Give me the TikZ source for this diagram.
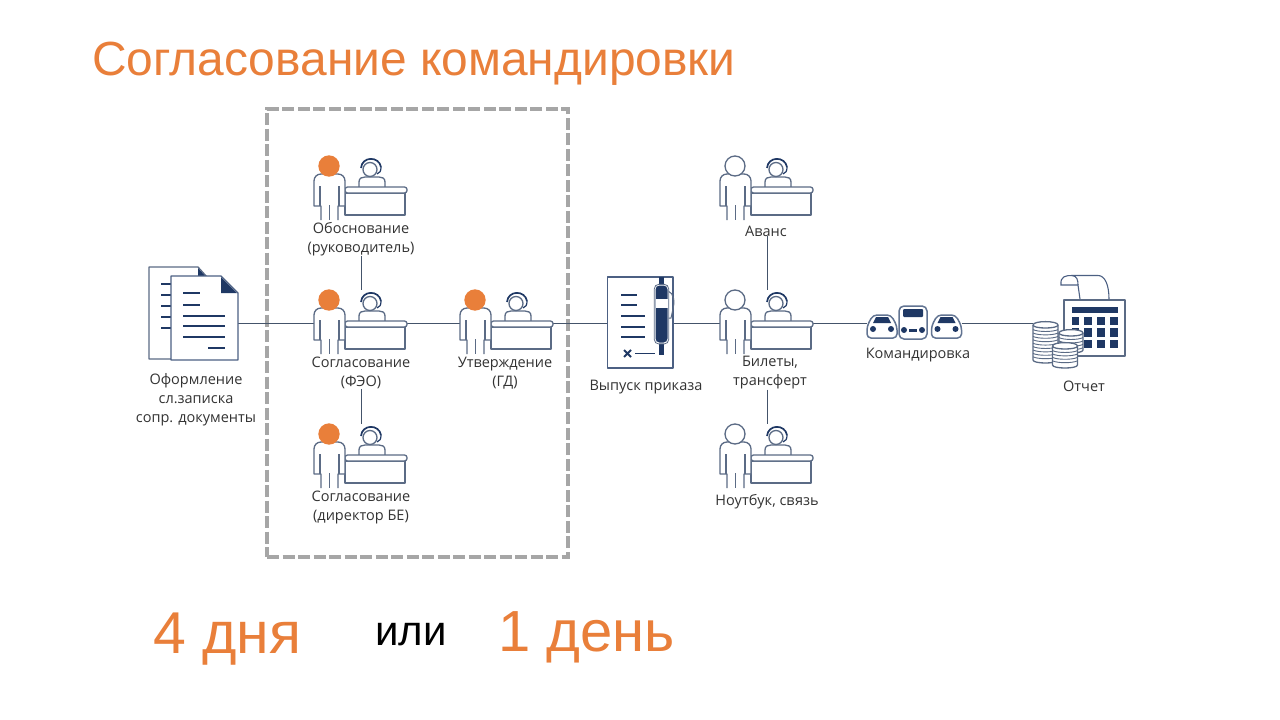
\documentclass[tikz,border=0pt]{standalone}
\usepackage{fontspec}
\setmainfont{Open Sans}
\newfontfamily\headfont{Liberation Sans}
\definecolor{navy}{HTML}{1F3864}
\definecolor{linegray}{HTML}{44546A}
\definecolor{outl}{HTML}{5B6B85}
\definecolor{orng}{HTML}{E97F3A}
\definecolor{dashgray}{HTML}{A6A6A6}
\tikzset{
  x=1pt,y=-1pt,
  conn/.style={draw=linegray,line width=1pt},
  ol/.style={draw=outl,line width=1.3pt,fill=white,line join=round},
  ink/.style={draw=navy,line width=1.6pt},
  lab/.style={align=center,inner sep=0pt,font=\fontsize{14.5}{19}\selectfont,text=black!80},
  anchorbox/.style={inner sep=0pt,minimum width=92pt,minimum height=66pt},
  desk/.pic={
    % agent
    \draw[ol] (-2,-2) -- (-2,-7) .. controls (-2,-11) and (1,-12) .. (4,-12) -- (18,-12) .. controls (21,-12) and (24,-11) .. (24,-7) -- (24,-2);
    \draw[ol] (9,-19.5) circle[radius=7pt];
    \draw[navy,line width=1.7pt] (0,-21) .. controls (1,-33) and (18,-33) .. (20,-22);
    \draw[navy,line width=1.2pt] (20,-22) .. controls (20,-18) and (19,-16) .. (16,-15);
    % desk
    \draw[ol] (-16,4) rectangle (44,26);
    \draw[ol,rounded corners=2.5pt] (-16,-2) rectangle (46,4);
    % person
    \draw[ol] (-40,31) -- (-40,17) -- (-47,17) -- (-47,-8) .. controls (-47,-12) and (-44,-15) .. (-40,-15) -- (-23,-15) .. controls (-19,-15) and (-16,-12) .. (-16,-8) -- (-16,17) -- (-23,17) -- (-23,31);
    \draw[ol,fill=none] (-41,-3) -- (-41,17) (-22,-3) -- (-22,17) (-31.5,16) -- (-31.5,31);
    \draw[ol,draw=\personedge,fill=\personfill] (-32,-23) circle[radius=10pt];
  },
  car/.pic={
    \draw[ol,draw=navy!70!white,line width=1.5pt,rounded corners=4pt] (-15,11) -- (-15,-1) -- (-9,-12) -- (9,-12) -- (15,-1) -- (15,11) -- cycle;
    \fill[navy] (-9,-4) -- (-6,-10) -- (6,-10) -- (9,-4) -- cycle;
    \fill[navy] (-9,2) circle[radius=3pt] (9,2) circle[radius=3pt];
  },
  bus/.pic={
    \draw[ol,draw=navy!70!white,line width=1.5pt,rounded corners=5pt] (-14,16.5) -- (-14,-16.5) -- (14,-16.5) -- (14,16.5) -- cycle;
    \fill[navy,rounded corners=1pt] (-10,-13.5) rectangle (10,-5.5);
    \fill[navy] (-9,7.5) circle[radius=3pt] (9,7.5) circle[radius=3pt];
    \fill[navy] (-4,6) rectangle (4,9);
  }
}
\newcommand{\personfill}{white}
\newcommand{\personedge}{outl}
\newcommand{\coinstack}[4]{% left, right, top, bottom
  \draw[ol] (#1,#3+3) -- (#1,#4-3) .. controls (#1,#4+1) and (#2,#4+1) .. (#2,#4-3) -- (#2,#3+3);
  \draw[ol] (#1,#3+3) .. controls (#1,#3-1.5) and (#2,#3-1.5) .. (#2,#3+3) .. controls (#2,#3+7) and (#1,#3+7) .. (#1,#3+3);
  \pgfmathsetmacro{\ystart}{#3+8.6}
  \pgfmathsetmacro{\ynext}{#3+12}
  \pgfmathsetmacro{\yend}{#4-3}
  \foreach \yy in {\ystart,\ynext,...,\yend}{
    \draw[outl,line width=.9pt] (#1,\yy-1) .. controls (#1+5,\yy+1.5) and (#2-5,\yy+1.5) .. (#2,\yy-1);
  }
}
\begin{document}
\begin{tikzpicture}
\useasboundingbox (0,0) rectangle (1280,720);
\fill[white] (0,0) rectangle (1280,720);

% texts
\node[anchor=west,inner sep=0pt,text=orng,font=\headfont\fontsize{47.9}{50}\selectfont] (title) at (92,64) {Согласование командировки};
\node[anchor=west,inner sep=0pt,text=orng,font=\headfont\fontsize{59}{64}\selectfont] (t4) at (153,639) {4 дня};
\node[anchor=west,inner sep=0pt,text=black,font=\headfont\fontsize{42}{48}\selectfont] (tor) at (375,635) {или};
\node[anchor=west,inner sep=0pt,text=orng,font=\headfont\fontsize{58}{64}\selectfont] (t1) at (498,637) {1 день};

% icon anchor boxes
\node[anchorbox] (ob) at (361,189) {};
\node[anchorbox] (feo) at (361,323) {};
\node[anchorbox] (dir) at (361,457) {};
\node[anchorbox] (gd) at (507,323) {};
\node[anchorbox] (av) at (767,189) {};
\node[anchorbox] (bi) at (767,323) {};
\node[anchorbox] (no) at (767,457) {};
\node[inner sep=0pt,minimum width=67pt,minimum height=84pt] (doc) at (204.5,323) {};
\node[inner sep=0pt,minimum width=66pt,minimum height=91pt] (ord) at (640.5,323) {};
\node[inner sep=0pt,minimum width=94pt,minimum height=34pt] (cars) at (914.5,323) {};
\node[inner sep=0pt,minimum width=92pt,minimum height=96pt] (calc) at (1079,323) {};

% labels
\node[lab] (lob) at (361,239) {Обоснование\\(руководитель)};
\node[lab] (lfeo) at (361,373) {Согласование\\(ФЭО)};
\node[lab] (ldir) at (361,507.5) {Согласование\\(директор БЕ)};
\node[lab] (lgd) at (505,373) {Утверждение\\(ГД)};
\node[lab] (ldoc) at (196,400) {Оформление\\сл.записка\\сопр. документы};
\node[lab] (lord) at (646,387) {Выпуск приказа};
\node[lab] (lav) at (766,231) {Аванс};
\node[lab] (lbi) at (770,373) {Билеты,\\трансферт};
\node[lab] (lno) at (767,502) {Ноутбук, связь};
\node[lab] (lcars) at (918,355) {Командировка};
\node[lab] (lcalc) at (1084,386) {Отчет};

% dashed frame
\node[draw=dashgray,line width=3.4pt,dash pattern=on 12pt off 3.5pt,inner sep=0pt,minimum width=301pt,minimum height=448pt] (frame) at (417.5,333) {};

% connectors
\draw[conn] (doc.east) -- (feo.west);
\draw[conn] (feo.east) -- (gd.west);
\draw[conn] (gd.east) -- (ord.west);
\draw[conn] (ord.east) -- (bi.west);
\draw[conn] (bi.east) -- (cars.west);
\draw[conn] (cars.east) -- (calc.west);
\draw[conn] (lob.south) -- (feo.north);
\draw[conn] (lfeo.south) -- (dir.north);
\draw[conn] (lav.south -| bi.center) -- (bi.north);
\draw[conn] (lbi.south -| bi.center) -- (no.north);

% people desks
\begin{scope}
\renewcommand{\personfill}{orng}\renewcommand{\personedge}{orng}
\pic at (ob.center) {desk};
\pic at (feo.center) {desk};
\pic at (dir.center) {desk};
\pic at (gd.center) {desk};
\end{scope}
\pic at (av.center) {desk};
\pic at (bi.center) {desk};
\pic at (no.center) {desk};

% documents
\draw[ol] (149,267) -- (198,267) -- (207,277) -- (207,359) -- (149,359) -- cycle;
\fill[navy] (198,268) -- (198,277) -- (206,277) -- cycle;
\foreach \yy in {284,295,306,317,328} \draw[ink] (161,\yy) -- (172,\yy);
\draw[ol,draw=navy!80!white] (171,276) -- (221,276) -- (238,293) -- (238,360) -- (171,360) -- cycle;
\fill[navy] (221,277) -- (221,293) -- (237,293) -- cycle;
\foreach \yy in {293,305} \draw[ink] (183,\yy) -- (200,\yy);
\foreach \yy in {316,326,337} \draw[ink] (183,\yy) -- (225,\yy);
\draw[ink] (208,348) -- (225,348);

% order
\draw[ol,draw=navy!80!white] (607.5,277) rectangle (673,368);
\foreach \yy in {295,305} \draw[ink] (621,\yy) -- (637,\yy);
\foreach \yy in {316,327,337} \draw[ink] (621,\yy) -- (645,\yy);
\draw[navy,line width=2pt] (624,350) -- (631,357) (631,350) -- (624,357);
\draw[ink] (635,353.5) -- (655,353.5);
\fill[navy] (658.5,277) rectangle (663.5,355);
\draw[outl,line width=1pt] (668,291) .. controls (674,293) and (675,302) .. (673,309) -- (671,318) -- (668,318);
\draw[draw=white,line width=1pt,fill=navy,rounded corners=4pt] (655,285) -- (668,285) -- (668,343) -- (655,343) -- cycle;
\draw[outl,line width=.8pt,rounded corners=4.5pt] (654.3,284.3) -- (668.7,284.3) -- (668.7,344) -- (654.3,344) -- cycle;
\fill[white] (655.5,299) rectangle (667.5,308);

% cars
\pic at (882,327) {car};
\pic at (946.5,327) {car};
\pic at (913,322.5) {bus};

% calculator
\draw[ol] (1064,300) rectangle (1125,356);
\draw[navy!80!white,line width=1.1pt] (1080,299) .. controls (1079,292) and (1078,285) .. (1078,285) -- (1061,285) .. controls (1060,276) and (1066,275.5) .. (1072,275.5) -- (1098,275.5) .. controls (1105,275.5) and (1109,285) .. (1109,299);
\draw[navy!80!white,line width=1.1pt] (1072,275.5) .. controls (1077,276) and (1078,280) .. (1078,285);
\fill[navy] (1072,307) rectangle (1118,313);
\foreach \yy/\yb in {317/325,328/337,340/348}
  \foreach \xx/\xb in {1072/1079,1084/1092,1097/1105,1110/1118}
    \fill[navy] (\xx,\yy) rectangle (\xb,\yb);
\coinstack{1033}{1058}{322}{363}
\coinstack{1059}{1083}{330}{353}
\coinstack{1052.5}{1077.5}{343}{368}
\end{tikzpicture}
\end{document}
